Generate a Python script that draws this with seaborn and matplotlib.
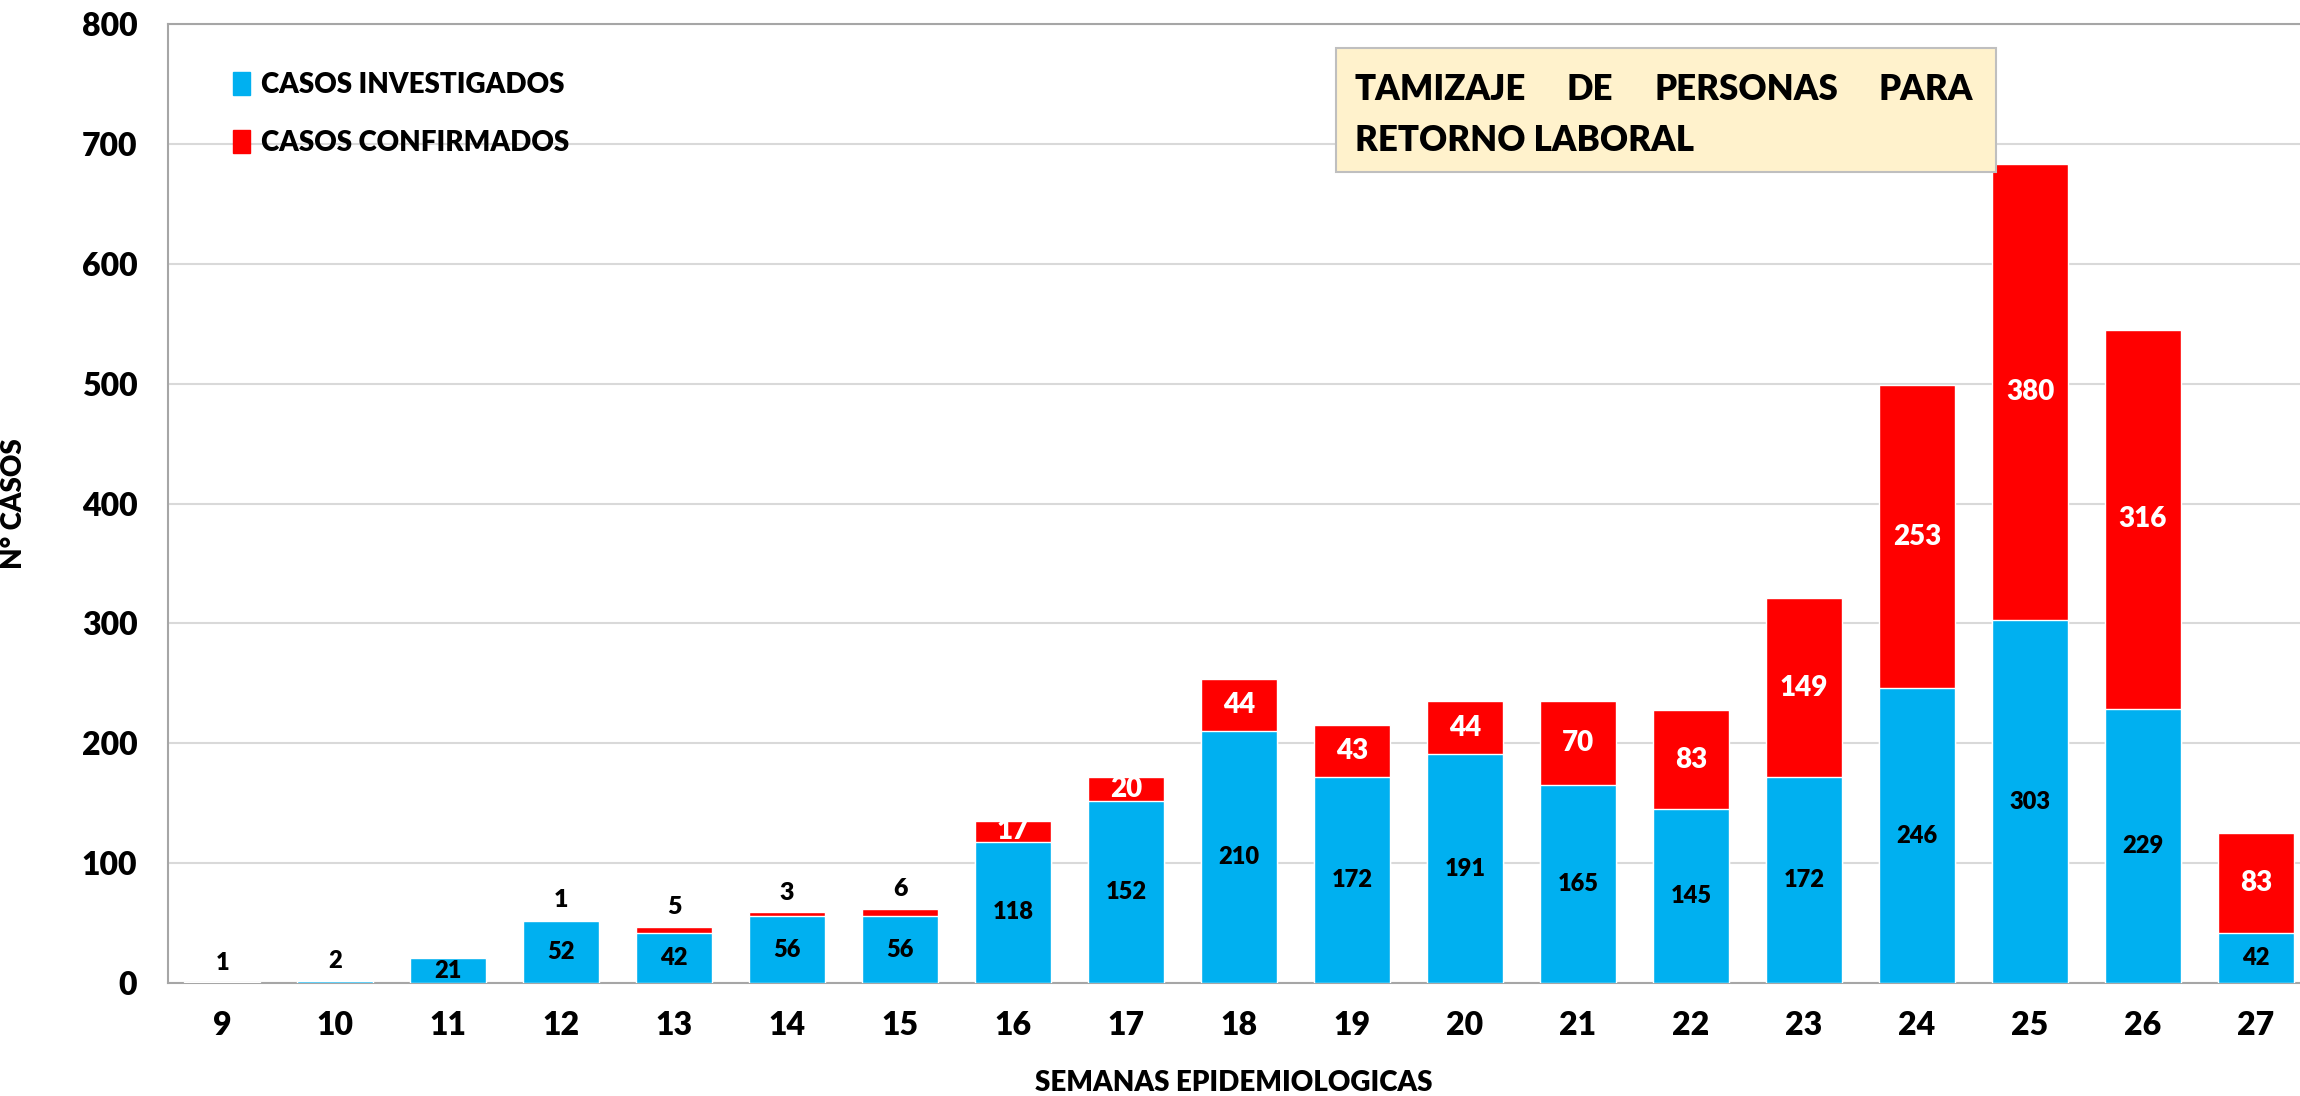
import numpy as np
import pandas as pd
import seaborn as sns
import matplotlib.pyplot as plt
from matplotlib.patches import Rectangle, Patch

# data
semanas = [str(s) for s in range(9, 28)]
investigados = [1, 2, 21, 52, 42, 56, 56, 118, 152, 210, 172, 191, 165, 145, 172, 246, 303, 229, 42]
confirmados = [0, 0, 0, 1, 5, 3, 6, 17, 20, 44, 43, 44, 70, 83, 149, 253, 380, 316, 83]

AZUL = "#00B0F0"
ROJO = "#FF0000"
W = "heavy"

df = pd.DataFrame({"semana": semanas, "inv": investigados, "conf": confirmados})
df["total"] = df["inv"] + df["conf"]

sns.set_style("white")
plt.rcParams["font.family"] = ["Lato", "DejaVu Sans"]
plt.rcParams["font.weight"] = W
for k in ["text.color", "axes.labelcolor", "xtick.color", "ytick.color"]:
    plt.rcParams[k] = "black"

fig = plt.figure(figsize=(23, 10.96), dpi=100)
ax = fig.add_axes([0.073, 0.103, 0.927, 0.875])

# stacked: red total drawn first, blue investigated on top
sns.barplot(data=df, x="semana", y="total", order=semanas, color=ROJO,
            saturation=1, width=0.67, ax=ax, zorder=2)
sns.barplot(data=df, x="semana", y="inv", order=semanas, color=AZUL,
            saturation=1, width=0.67, ax=ax, zorder=3)

for i, row in df.iterrows():
    if row["inv"] >= 20:
        ax.text(i, row["inv"] / 2, str(row["inv"]), ha="center", va="center",
                fontsize=17, fontweight=W, color="black", zorder=5)
    elif row["inv"] > 0:
        ax.text(i, row["inv"] + 7, str(row["inv"]), ha="center", va="bottom",
                fontsize=17, fontweight=W, color="black", zorder=5)
    if row["conf"] >= 15:
        ax.text(i, row["inv"] + row["conf"] / 2, str(row["conf"]), ha="center",
                va="center", fontsize=20, fontweight=W, color="white", zorder=5)
    elif row["conf"] > 0:
        ax.text(i, row["total"] + 7, str(row["conf"]), ha="center", va="bottom",
                fontsize=18, fontweight=W, color="black", zorder=5)

ax.set_ylim(0, 800)
ax.set_xlim(-0.48, 18.39)
ax.set_yticks(range(0, 801, 100))
ax.yaxis.grid(True, color="#D9D9D9", linewidth=1.5, zorder=0)
ax.set_axisbelow(True)
ax.tick_params(axis="both", length=0, labelsize=23)
ax.tick_params(axis="x", pad=20)
ax.tick_params(axis="y", pad=22)
for lab in ax.get_xticklabels() + ax.get_yticklabels():
    lab.set_fontweight(W)

for s in ["left", "bottom", "top"]:
    ax.spines[s].set_color("#A6A6A6")
    ax.spines[s].set_linewidth(1.5)
ax.spines["right"].set_visible(False)

ax.set_xlabel("SEMANAS EPIDEMIOLOGICAS", fontsize=20, fontweight=W, labelpad=22)
ax.set_ylabel("N° CASOS", fontsize=20, fontweight=W)
ax.yaxis.set_label_coords(-0.066, 0.5)

handles = [Patch(color=AZUL, label="CASOS INVESTIGADOS"),
           Patch(color=ROJO, label="CASOS CONFIRMADOS")]
leg = ax.legend(handles=handles, loc="upper left", bbox_to_anchor=(0.019, 0.976),
                frameon=False, fontsize=20, handlelength=0.6, handleheight=0.9,
                handletextpad=0.4, labelspacing=1.15)
for t in leg.get_texts():
    t.set_fontweight(W)

# title box
box = Rectangle((0.581, 0.843), 0.287, 0.113, transform=fig.transFigure,
                facecolor="#FFF2CC", edgecolor="#BFBFBF", linewidth=1.5, zorder=10)
fig.patches.append(box)

# justified first line
x_left, x_right, y1 = 0.589, 0.858, 0.918
words = ["TAMIZAJE", "DE", "PERSONAS", "PARA"]
objs = [fig.text(0, y1, w, ha="left", va="center", fontsize=25, fontweight=W, zorder=11)
        for w in words]
fig.canvas.draw()
r = fig.canvas.get_renderer()
widths = [o.get_window_extent(r).width / fig.bbox.width for o in objs]
gap = (x_right - x_left - sum(widths)) / (len(words) - 1)
xpos = x_left
for o, w in zip(objs, widths):
    o.set_x(xpos)
    xpos += w + gap
fig.text(x_left, 0.872, "RETORNO LABORAL", ha="left", va="center", fontsize=25,
         fontweight=W, zorder=11)

fig.savefig("out.png", dpi=100)
